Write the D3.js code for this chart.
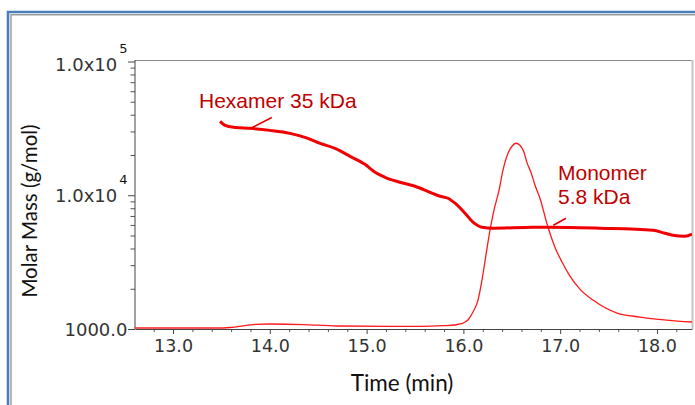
<!DOCTYPE html>
<html><head><meta charset="utf-8">
<script src="https://cdn.jsdelivr.net/npm/d3@7"></script>
<style>html,body{margin:0;padding:0;background:#fff;}svg{display:block;}</style>
</head><body>
<svg id="c" width="695" height="405"></svg>
<script>
// ---- data ----
const hexTime = [13.486,13.537,13.640,13.795,14.002,14.209,14.364,14.519,14.674,14.829,14.983,15.087,15.190,15.345,15.500,15.655,15.758,15.841,15.913,16.017,16.099,16.192,16.306,16.719,16.895,17.411,17.959,18.083,18.165,18.289,18.362];
const hexMass = [35650,33270,32130,31630,30550,29020,27100,24440,22430,19540,17020,14850,13620,12500,11670,10520,9830,9500,8720,7340,6290,5770,5670,5770,5770,5670,5480,5200,5020,4940,5120];
const sigTime = [12.607,13.455,13.589,13.826,14.002,14.343,14.694,15.552,15.789,15.913,15.965,15.996,16.047,16.099,16.151,16.192,16.233,16.275,16.316,16.368,16.409,16.461,16.502,16.543,16.584,16.626,16.657,16.698,16.740,16.791,16.874,16.946,17.019,17.101,17.204,17.339,17.587,17.824,18.103,18.362];
const sigMass = [1017,1017,1026,1080,1090,1080,1053,1047,1058,1071,1090,1108,1167,1339,1646,2321,3565,5480,7740,10870,15400,20600,23250,24480,23650,20930,17530,14850,11880,9500,5770,4090,3165,2487,1988,1646,1316,1229,1167,1128];
const xTicks = [13,14,15,16,17,18];
const yMajor = [1000,10000,100000];
const yLabelBase = ["1000.0","1.0x10","1.0x10"];
const yLabelSup = ["","4","5"];
const xTitle = "Time (min)";
const yTitle = "Molar Mass (g/mol)";
const annHex = ["Hexamer 35 kDa"];
const annMono = ["Monomer","5.8 kDa"];

// ---- layout ----
const L=135, T=60, R=692, B=329;
const svg = d3.select("#c");
const x = d3.scaleLinear().domain([12.607,18.362]).range([L,R]);
const y = d3.scaleLog().domain([1000,100000]).range([B,61.5]);

// outer border
svg.append("path").attr("d","M8,405 V12 H695").attr("fill","none").attr("stroke","#4a7ebb").attr("stroke-width",2.6);
svg.append("path").attr("d","M11,405 V14.8 H695").attr("fill","none").attr("stroke","#9a9a9a").attr("stroke-width",1.4);

// plot frame
svg.append("line").attr("x1",L).attr("x2",R).attr("y1",T+0.5).attr("y2",T+0.5).attr("stroke","#8a8a8a").attr("stroke-width",1);
svg.append("line").attr("x1",R+0.5).attr("x2",R+0.5).attr("y1",T).attr("y2",B).attr("stroke","#c4c4c4").attr("stroke-width",2);

// x axis minor
const xMinor = d3.range(12.8,18.4,0.2).filter(v=>Math.abs(v-Math.round(v))>0.01);
const gxm = svg.append("g").attr("transform",`translate(0,${B})`)
  .call(d3.axisBottom(x).tickValues(xMinor).tickSize(3).tickFormat(""));
gxm.select(".domain").remove();
gxm.selectAll("line").attr("stroke","#555");
const gx = svg.append("g").attr("transform",`translate(0,${B})`)
  .call(d3.axisBottom(x).tickValues(xTicks).tickSize(5).tickSizeOuter(0).tickFormat(d3.format(".1f")));
gx.select(".domain").attr("stroke","#444");
gx.selectAll("line").attr("stroke","#444");
gx.selectAll("text").attr("font-family","DejaVu Sans").attr("font-size",17.5).attr("fill","#333").attr("y",11).attr("dy","0.71em");

// y axis minor
const yMinor = [];
[1000,10000].forEach(b=>{for(let k=2;k<=9;k++) yMinor.push(b*k);});
const gym = svg.append("g").attr("transform",`translate(${L},0)`)
  .call(d3.axisLeft(y).tickValues(yMinor).tickSize(4.5).tickFormat(""));
gym.select(".domain").remove();
gym.selectAll("line").attr("stroke","#555");
const gy = svg.append("g").attr("transform",`translate(${L},0)`)
  .call(d3.axisLeft(y).tickValues(yMajor).tickSize(7).tickSizeOuter(0).tickFormat(""));
gy.select(".domain").attr("stroke","#444").attr("d",`M0,${B}V${T}`);
gy.selectAll("line").attr("stroke","#444");
yMajor.forEach((v,i)=>{
  const t = svg.append("text").attr("x",127.5).attr("y",y(v)+6.5+(i===2?3:0))
    .attr("text-anchor","end").attr("font-family","DejaVu Sans").attr("font-size",18).attr("fill","#333");
  t.append("tspan").text(yLabelBase[i]);
  if(yLabelSup[i]) t.append("tspan").attr("dy",-18).attr("font-size",13).attr("dx",2).attr("fill","#111").text(yLabelSup[i]);
});

// titles
svg.append("text").attr("x",402).attr("y",391).attr("text-anchor","middle")
  .attr("font-family","Lato").attr("font-size",22.5).attr("fill","#111").text(xTitle);
svg.append("text").attr("transform","translate(37,211) rotate(-90)").attr("text-anchor","middle")
  .attr("font-family","Lato").attr("font-size",20.5).attr("fill","#111").text(yTitle);

// curves
const clip = svg.append("clipPath").attr("id","cp").append("rect").attr("x",L).attr("y",T).attr("width",R-L).attr("height",B-T);
const line = d3.line().x(d=>x(d[0])).y(d=>y(d[1])).curve(d3.curveMonotoneX);
svg.append("path").datum(sigTime.map((t,i)=>[t,sigMass[i]])).attr("d",line)
  .attr("fill","none").attr("stroke","#ff1a1a").attr("stroke-width",1.3).attr("clip-path","url(#cp)");
svg.append("path").datum(hexTime.map((t,i)=>[t,hexMass[i]])).attr("d",line)
  .attr("fill","none").attr("stroke","#f00000").attr("stroke-width",3).attr("stroke-linejoin","round").attr("clip-path","url(#cp)");

// annotations
const annColor = "#c00000";
svg.append("text").attr("x",199).attr("y",108).attr("font-family","Liberation Sans").attr("font-size",21).attr("fill",annColor).text(annHex[0]);
annMono.forEach((s,i)=>svg.append("text").attr("x",558).attr("y",180+i*24).attr("font-family","Liberation Sans").attr("font-size",21).attr("fill",annColor).text(s));
// leader lines anchored on the data
svg.append("line").attr("x1",x(13.8)).attr("y1",y(31600)).attr("x2",x(14.02)).attr("y2",y(31600)-11).attr("stroke","#e00000").attr("stroke-width",1.6);
svg.append("line").attr("x1",x(16.93)).attr("y1",y(5770)-2).attr("x2",x(17.06)).attr("y2",y(5770)-9).attr("stroke","#e00000").attr("stroke-width",1.6);
</script>
</body></html>
